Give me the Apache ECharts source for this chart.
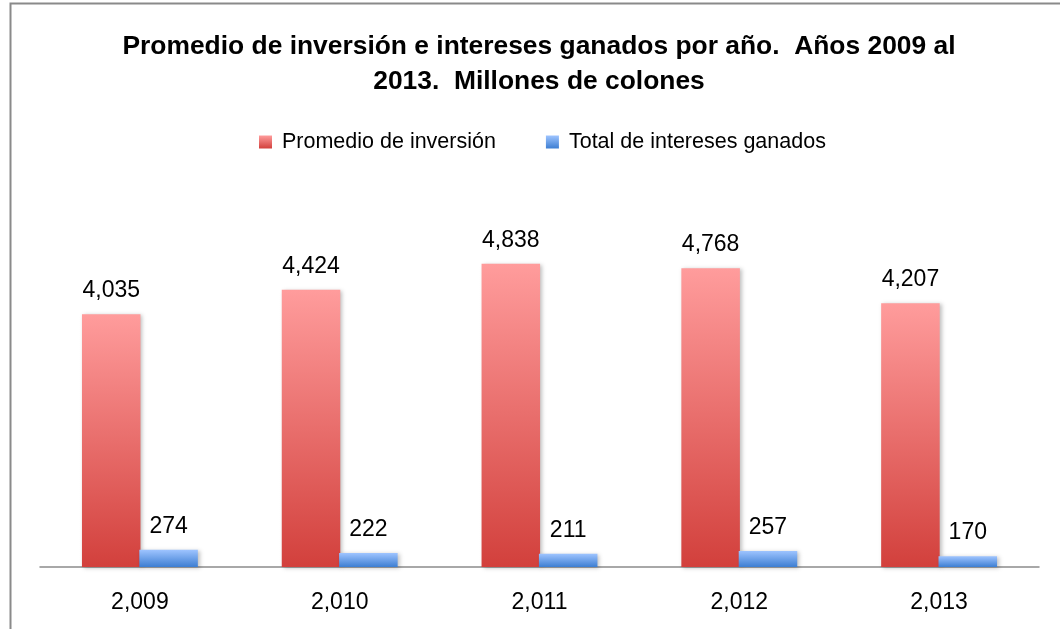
<!DOCTYPE html>
<html>
<head>
<meta charset="utf-8">
<script src="https://cdn.jsdelivr.net/npm/echarts@6/dist/echarts.min.js"></script>
<style>
  html, body { margin: 0; padding: 0; background: #fff; }
  #chart { width: 1060px; height: 629px; }
</style>
</head>
<body>
<div id="chart"></div>
<script>
var years = ['2,009', '2,010', '2,011', '2,012', '2,013'];
var promedioInversion = [4035, 4424, 4838, 4768, 4207];
var interesesGanados = [274, 222, 211, 257, 170];
var seriesNames = ['Promedio de inversión', 'Total de intereses ganados'];

var fontFam = '"Liberation Sans Narrow", "Arial Narrow", "Liberation Sans", Arial, sans-serif';

function grad(top, bottom) {
    return new echarts.graphic.LinearGradient(0, 0, 0, 1, [
        { offset: 0, color: top },
        { offset: 1, color: bottom }
    ]);
}

var redFill = grad('#ff9c9c', '#d2403c');
var blueFill = grad('#9ec4ff', '#3d7ed2');

function fmt(v) {
    return v.toLocaleString('en-US');
}

var chart = echarts.init(document.getElementById('chart'));
var option = {
    backgroundColor: '#fff',
    animation: false,
    title: {
        text: 'Promedio de inversión e intereses ganados por año.  Años 2009 al\n2013.  Millones de colones',
        left: 534,
        textAlign: 'center',
        top: 24,
        textStyle: {
            fontFamily: fontFam,
            fontWeight: 'bold',
            fontSize: 26.4,
            lineHeight: 35,
            color: '#000'
        }
    },
    legend: {
        top: 131,
        left: 259,
        padding: 0,
        itemWidth: 13,
        itemHeight: 13,
        itemGap: 50,
        icon: 'rect',
        textStyle: { fontFamily: fontFam, fontSize: 21.5, color: '#000', padding: [0, 0, 0, 5] },
        data: seriesNames
    },
    grid: { left: 40, right: 21, top: 191, bottom: 62 },
    xAxis: {
        type: 'category',
        data: years,
        axisLine: { lineStyle: { color: '#8c8c8c', width: 1.5 } },
        axisTick: { show: false },
        axisLabel: { fontFamily: fontFam, fontSize: 23, color: '#000', margin: 24 }
    },
    yAxis: {
        type: 'value',
        min: 0,
        max: 6000,
        show: false,
        splitLine: { show: false }
    },
    series: [
        {
            name: seriesNames[0],
            type: 'bar',
            data: promedioInversion,
            barGap: '-2%',
            barCategoryGap: '42%',
            itemStyle: {
                color: redFill,
                shadowColor: 'rgba(0,0,0,0.25)',
                shadowBlur: 4,
                shadowOffsetX: 2,
                shadowOffsetY: 1
            },
            label: {
                show: true,
                position: 'top',
                distance: 12,
                formatter: function (p) { return fmt(p.value); },
                fontFamily: fontFam,
                fontSize: 23,
                color: '#000'
            }
        },
        {
            name: seriesNames[1],
            type: 'bar',
            data: interesesGanados,
            itemStyle: {
                color: blueFill,
                shadowColor: 'rgba(0,0,0,0.25)',
                shadowBlur: 4,
                shadowOffsetX: 2,
                shadowOffsetY: 1
            },
            label: {
                show: true,
                position: 'top',
                distance: 12,
                formatter: function (p) { return fmt(p.value); },
                fontFamily: fontFam,
                fontSize: 23,
                color: '#000'
            }
        }
    ],
    graphic: [
        {
            type: 'rect',
            shape: { x: 10.5, y: 3.5, width: 1100, height: 700 },
            style: { fill: 'none', stroke: '#8a8a8a', lineWidth: 2 },
            silent: true,
            z: -1
        }
    ]
};
chart.setOption(option);
</script>
</body>
</html>
